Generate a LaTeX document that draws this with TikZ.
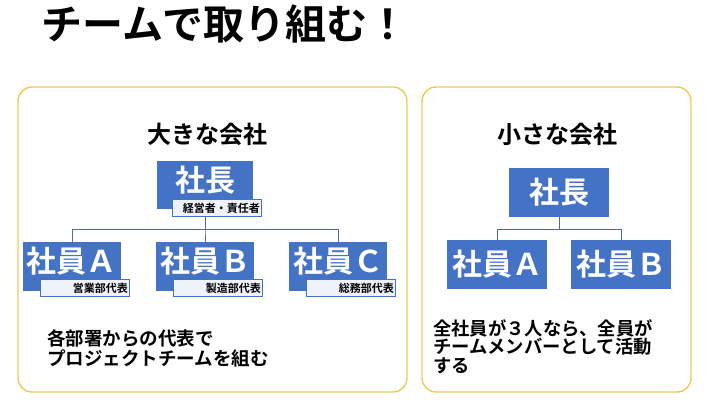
\documentclass[tikz,border=0pt]{standalone}
\usepackage{fontspec}
\setmainfont{Noto Sans CJK JP}[BoldFont={* Bold}]
\usetikzlibrary{positioning}
\definecolor{frameyellow}{HTML}{EDC95A}
\definecolor{boxblue}{HTML}{4472C4}
\definecolor{linkgray}{HTML}{56698A}
\definecolor{tagfill}{HTML}{EEF2F9}
\tikzset{
  panel/.style={draw=frameyellow, line width=1.4pt, rounded corners=14pt},
  member/.style={fill=boxblue, minimum width=\bw, minimum height=\bh, inner sep=0pt},
  membertext/.style={text=white, font=\bfseries\fontsize{30}{32}\selectfont, inner sep=0pt},
  tagbox/.style={draw=boxblue, line width=0.8pt, fill=tagfill, text width=85pt, align=right,
    inner xsep=2pt, inner ysep=0pt, minimum height=17pt, font=\bfseries\fontsize{11}{12}\selectfont},
  link/.style={draw=linkgray, line width=1pt},
  head/.style={font=\bfseries\fontsize{24}{26}\selectfont},
  note/.style={anchor=north west, align=left, inner sep=0pt, font=\bfseries\fontsize{18.5}{20}\selectfont}
}
\begin{document}
\begin{tikzpicture}[x=1pt,y=-1pt]

% GLOBAL SETTINGS
\newcommand{\nL}{3}
\newlength{\bw}
\setlength{\bw}{98pt}
\newlength{\bh}
\setlength{\bh}{49pt}
\useasboundingbox (0,0) rectangle (710,409);

% TITLE
\node[anchor=west, inner sep=0pt, font=\bfseries\fontsize{41}{43}\selectfont] (title) at (41,24) {チームで取り組む！};

% PANELS
\draw[panel] (18,87) rectangle (407,392);
\draw[panel] (422,87) rectangle (691,392);
\node[head] (Lhead) at (207,134) {大きな会社};
\node[head] (Rhead) at (557,134) {小さな会社};

% LEFT: boss and members
\node[member, minimum width=96pt, minimum height=48pt] (Lboss) at (205,185) {};
\foreach \j/\x in {1/72,2/205,3/338} {
  \node[member] (L\j) at (\x,266.5) {};
}
\coordinate (Ljoin) at (205,229);
\foreach \j in {1,...,\nL} { \draw[link] (Lboss.south) -- (Ljoin) -| (L\j.north) ;}
% tags
\node[tagbox, anchor=south east] (Ltag0) at ([shift={(9pt,-8pt)}]Lboss.south east) {経営者・責任者};
\foreach \j/\dept in {1/営業部代表,2/製造部代表,3/総務部代表} {
  \node[tagbox, anchor=south east] (Ltag\j) at ([shift={(9pt,-6pt)}]L\j.south east) {\dept};
}
% texts
\node[membertext] (Lbosst) at ([yshift=5pt]Lboss.center) {社長};
\foreach \j/\ltr in {1/Ａ,2/Ｂ,3/Ｃ} {
  \node[membertext] (L\j t) at ([yshift=5pt]L\j.center) {社員\ltr};
}
\node[note] (Lnote) at (47,329) {各部署からの代表で\\プロジェクトチームを組む};

% RIGHT: boss and members
\node[member, minimum width=100pt] (Rboss) at (559,192.5) {};
\node[membertext] (Rbosst) at (Rboss) {社長};
\foreach \j/\x/\ltr in {1/497/Ａ,2/621/Ｂ} {
  \node[member, minimum width=100pt] (R\j) at (\x,264.5) {};
  \node[membertext] (R\j t) at (R\j) {社員\ltr};
}
\coordinate (Rjoin) at (559,229);
\foreach \j in {1,2} { \draw[link] (Rboss.south) -- (Rjoin) -| (R\j.north) ;}
\node[note, font=\bfseries\fontsize{18.3}{18.7}\selectfont] (Rnote) at (433,319) {全社員が３人なら、全員が\\チームメンバーとして活動\\する};

\end{tikzpicture}
\end{document}
